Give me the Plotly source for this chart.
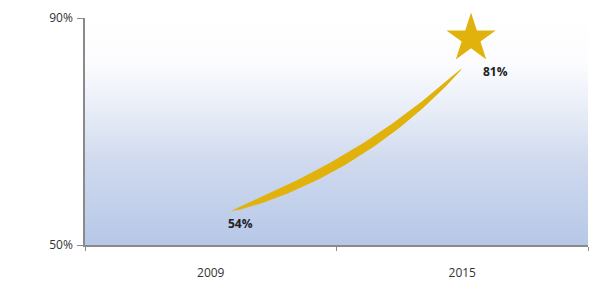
import numpy as np
import plotly.graph_objects as go

# ---- data ----
categories = ["2009", "2015"]
values = [54, 81]
value_labels = ["54%", "81%"]
y_ticks = [50, 90]
y_tick_labels = ["50%", "90%"]

# ---- layout geometry (page body has an 8px margin) ----
W, H = 594, 282
ML, MR, MT, MB = 77, 14, 10, 45
PW, PH = W - ML - MR, H - MT - MB
XR = [-0.5, 1.5]
YR = [50, 90]

def to_px(x, y):
    px = ML + (x - XR[0]) / (XR[1] - XR[0]) * PW
    py = MT + (YR[1] - y) / (YR[1] - YR[0]) * PH
    return px, py

def to_data(px, py):
    x = XR[0] + (px - ML) / PW * (XR[1] - XR[0])
    y = YR[1] - (py - MT) / PH * (YR[1] - YR[0])
    return x, y

xs = list(range(len(categories)))
gold = "#e2b20c"

fig = go.Figure()

# gradient plot background
fig.add_trace(go.Scatter(
    x=[XR[0], XR[1], XR[1], XR[0], XR[0]],
    y=[YR[0], YR[0], YR[1], YR[1], YR[0]],
    mode="lines", line=dict(width=0), fill="toself",
    fillgradient=dict(type="vertical",
                      colorscale=[[0, "rgb(182,199,231)"], [0.35, "rgb(206,217,238)"],
                                  [0.62, "rgb(234,239,248)"], [0.8, "rgb(252,252,254)"], [1, "white"]]),
    hoverinfo="skip", showlegend=False))

# swoosh built from the two data points (tapered, gently curved)
p0 = np.array(to_px(xs[0] + 0.08, values[0] + 2))
p2 = np.array(to_px(xs[1], values[1] + 0.2))
ctrl = p0 + np.array([0.57, 0.30]) * (p2 - p0)
t = np.linspace(0, 1, 80)
pts = ((1 - t)[:, None] ** 2) * p0 + (2 * (1 - t) * t)[:, None] * ctrl + (t[:, None] ** 2) * p2
d = 2 * (1 - t)[:, None] * (ctrl - p0) + 2 * t[:, None] * (p2 - ctrl)
d = d / np.linalg.norm(d, axis=1)[:, None]
nrm = np.stack([-d[:, 1], d[:, 0]], axis=1)
wdt = 4.8 * np.sin(np.pi * t) ** 0.55 * (1.15 - 0.4 * t)
upper = pts + nrm * wdt[:, None]
lower = pts - nrm * wdt[:, None]
poly = np.vstack([upper, lower[::-1]])
sx, sy = to_data(poly[:, 0], poly[:, 1])
fig.add_trace(go.Scatter(x=sx, y=sy, mode="lines", line=dict(width=0),
                         fill="toself", fillcolor=gold, hoverinfo="skip", showlegend=False))

# star near the final value
fig.add_trace(go.Scatter(x=[xs[1] + 0.035], y=[values[1] + 5.4], mode="markers",
                         marker=dict(symbol="star", size=37, color=gold, line=dict(width=0)),
                         cliponaxis=False, hoverinfo="skip", showlegend=False))

# value labels
for xi, v, lab, dx, dy in zip(xs, values, value_labels, [30, 33], [-1, -2]):
    fig.add_annotation(x=xi, y=v, text=f"<b>{lab}</b>", showarrow=False,
                       xshift=dx, yshift=dy, font=dict(size=12, color="#222222", family="Open Sans"))

fig.update_layout(
    width=W, height=H,
    margin=dict(l=ML, r=MR, t=MT, b=MB),
    paper_bgcolor="white", plot_bgcolor="white",
    showlegend=False,
    font=dict(family="Open Sans", size=12, color="#333333"),
)
fig.update_xaxes(
    range=XR, tickmode="array", tickvals=xs, ticktext=categories, automargin=False,
    ticks="", ticklabelstandoff=16, showgrid=False, zeroline=False,
    showline=True, linecolor="#8a8a8a", linewidth=1.5,
    minor=dict(tickmode="array", tickvals=[-0.5, 0.5, 1.5], ticks="outside",
               ticklen=4, tickcolor="#8a8a8a", showgrid=False),
    tickfont=dict(size=12, color="#333333"),
)
fig.update_yaxes(
    range=YR, tickmode="array", tickvals=y_ticks, ticktext=y_tick_labels, automargin=False,
    ticks="outside", ticklen=6, tickcolor="#8a8a8a", ticklabelstandoff=2,
    showgrid=False, zeroline=False, showline=True, linecolor="#8a8a8a", linewidth=1.5,
    tickfont=dict(size=12, color="#333333"),
)

fig.write_html("out.html")
